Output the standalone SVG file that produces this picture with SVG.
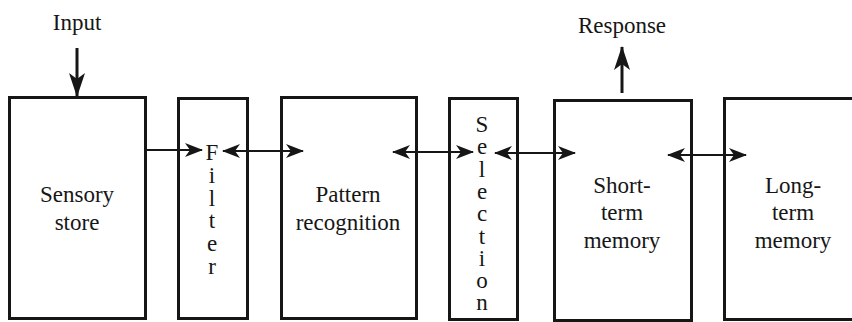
<svg xmlns="http://www.w3.org/2000/svg" width="852" height="322" viewBox="0 0 852 322">
<style>
.box{fill:#fff;stroke:#161616;stroke-width:3}
.t{font-family:"Liberation Serif","Times New Roman","DejaVu Serif",serif;font-size:23px;fill:#161616;text-anchor:middle}
.v{font-family:"Liberation Serif","Times New Roman","DejaVu Serif",serif;font-size:23px;fill:#161616;writing-mode:vertical-rl;text-orientation:upright}
.ln{stroke:#161616;stroke-width:2;fill:none}
.vl{stroke:#161616;stroke-width:3;fill:none}
</style>
<defs>
<marker id="ah" viewBox="0 0 18 14" refX="17" refY="7" markerWidth="18" markerHeight="14" markerUnits="userSpaceOnUse" orient="auto-start-reverse">
<path d="M0,0 L18,7 L0,14 L5,7 Z" fill="#161616"/>
</marker>
<marker id="bh" viewBox="0 0 24 16" refX="23" refY="8" markerWidth="24" markerHeight="16" markerUnits="userSpaceOnUse" orient="auto">
<path d="M0,0 L24,8 L0,16 L6,8 Z" fill="#161616"/>
</marker>
</defs>
<rect width="852" height="322" fill="#fff"/>
<text class="t" x="77" y="30">Input</text>
<text class="t" x="622" y="33">Response</text>
<g id="sensory">
<rect class="box" x="9.5" y="97.5" width="136" height="221"/>
<text class="t" x="77" y="202">Sensory</text>
<text class="t" x="77" y="230">store</text>
</g>
<g id="filter">
<rect class="box" x="178.5" y="98.5" width="69" height="220"/>
<text class="v" x="212" y="140" letter-spacing="-2.2">Filter</text>
</g>
<g id="pattern">
<rect class="box" x="281.5" y="97.5" width="135" height="221"/>
<text class="t" x="348" y="202">Pattern</text>
<text class="t" x="348" y="230">recognition</text>
</g>
<g id="selection">
<rect class="box" x="449.5" y="98.5" width="68" height="221"/>
<text class="v" x="482" y="112" letter-spacing="-2.7">Selection</text>
</g>
<g id="shortterm">
<rect class="box" x="554.5" y="100.5" width="137" height="220"/>
<text class="t" x="622" y="193">Short-</text>
<text class="t" x="622" y="220">term</text>
<text class="t" x="622" y="248">memory</text>
</g>
<g id="longterm">
<rect class="box" x="724.5" y="98.5" width="140" height="221"/>
<text class="t" x="793" y="193">Long-</text>
<text class="t" x="793" y="220">term</text>
<text class="t" x="793" y="248">memory</text>
</g>
<g id="connectors">
<line class="vl" x1="77" y1="48" x2="77" y2="96" marker-end="url(#bh)"/>
<line class="vl" x1="622" y1="93" x2="622" y2="47" marker-end="url(#bh)"/>
<line class="ln" x1="146" y1="150" x2="202" y2="150" marker-end="url(#ah)"/>
<line class="ln" x1="223" y1="151" x2="303" y2="151" marker-start="url(#ah)" marker-end="url(#ah)"/>
<line class="ln" x1="393" y1="152" x2="473" y2="152" marker-start="url(#ah)" marker-end="url(#ah)"/>
<line class="ln" x1="495" y1="153" x2="575" y2="153" marker-start="url(#ah)" marker-end="url(#ah)"/>
<line class="ln" x1="668" y1="155" x2="746" y2="155" marker-start="url(#ah)" marker-end="url(#ah)"/>
</g>
</svg>
